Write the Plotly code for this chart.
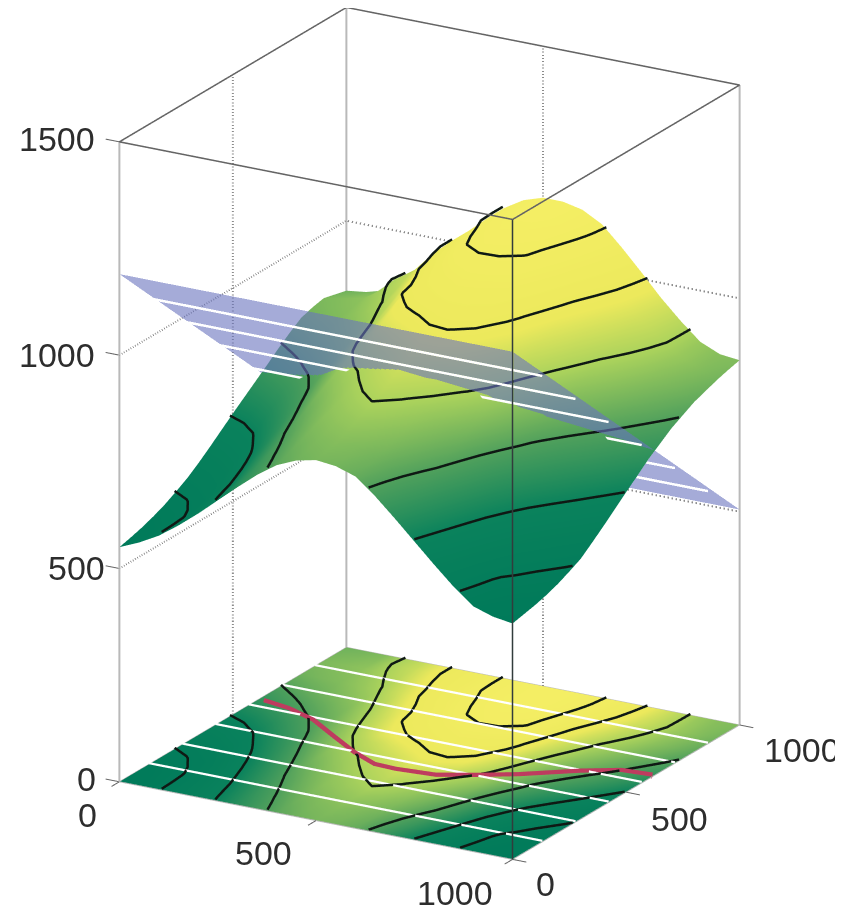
import plotly.graph_objects as go

x_grid = list(range(0, 1001, 50))
y_grid = list(range(0, 1001, 50))
z_y0 = [550, 570, 595, 628, 665, 705, 745, 783, 815, 835, 845, 840, 825, 788, 745, 700, 655, 612, 575, 560, 553]
z_y50 = [557, 574, 596, 632, 672, 715, 757, 794, 826, 844, 852, 846, 831, 798, 760, 715, 670, 625, 583, 567, 559]
z_y100 = [565, 578, 598, 637, 680, 725, 770, 806, 838, 853, 860, 852, 838, 809, 775, 730, 685, 638, 592, 575, 565]
z_y150 = [575, 586, 605, 647, 692, 738, 784, 819, 850, 864, 872, 863, 849, 822, 790, 745, 700, 655, 610, 588, 573]
z_y200 = [587, 597, 615, 658, 705, 752, 798, 832, 862, 876, 885, 875, 860, 835, 805, 761, 715, 672, 630, 602, 583]
z_y250 = [602, 613, 632, 674, 719, 767, 814, 846, 873, 889, 901, 889, 872, 848, 820, 777, 732, 692, 652, 620, 596]
z_y300 = [618, 630, 650, 690, 735, 783, 830, 860, 885, 902, 918, 903, 885, 862, 835, 793, 750, 712, 675, 640, 610]
z_y350 = [638, 651, 671, 710, 752, 800, 848, 875, 897, 917, 936, 920, 902, 879, 852, 811, 770, 734, 700, 665, 632]
z_y400 = [660, 672, 693, 730, 770, 818, 865, 890, 910, 933, 955, 938, 920, 897, 870, 830, 790, 757, 725, 690, 655]
z_y450 = [683, 695, 716, 751, 787, 835, 881, 909, 932, 953, 975, 975, 958, 920, 885, 846, 807, 777, 747, 714, 679]
z_y500 = [706, 718, 740, 772, 805, 852, 897, 930, 958, 980, 1000, 1005, 985, 942, 900, 862, 825, 797, 770, 738, 703]
z_y550 = [728, 744, 765, 792, 821, 866, 915, 965, 990, 1005, 1020, 1025, 1010, 962, 915, 877, 842, 816, 790, 760, 726]
z_y600 = [750, 770, 790, 813, 838, 880, 930, 985, 1012, 1030, 1045, 1042, 1030, 990, 930, 893, 860, 835, 810, 782, 750]
z_y650 = [772, 791, 810, 830, 853, 894, 945, 1005, 1030, 1050, 1068, 1062, 1048, 1005, 950, 909, 875, 850, 825, 800, 770]
z_y700 = [795, 813, 830, 848, 868, 908, 965, 1012, 1045, 1075, 1090, 1090, 1075, 1025, 968, 925, 890, 865, 840, 817, 790]
z_y750 = [816, 830, 843, 861, 882, 924, 985, 1022, 1065, 1100, 1120, 1115, 1098, 1045, 987, 942, 905, 879, 853, 830, 805]
z_y800 = [835, 846, 855, 874, 897, 945, 1000, 1040, 1080, 1112, 1130, 1125, 1110, 1065, 1005, 960, 920, 892, 865, 843, 820]
z_y850 = [844, 853, 862, 884, 910, 960, 1010, 1050, 1090, 1120, 1138, 1136, 1122, 1082, 1024, 978, 935, 904, 874, 852, 830]
z_y900 = [850, 858, 868, 895, 925, 975, 1020, 1060, 1100, 1128, 1145, 1145, 1132, 1095, 1042, 995, 950, 915, 882, 860, 840]
z_y950 = [843, 851, 862, 905, 935, 985, 1025, 1060, 1102, 1128, 1145, 1145, 1135, 1105, 1055, 1006, 958, 918, 881, 860, 848]
z_y1000 = [836, 842, 855, 900, 935, 985, 1025, 1060, 1102, 1130, 1145, 1145, 1135, 1110, 1065, 1016, 965, 920, 880, 860, 855]
surface_z = [z_y0, z_y50, z_y100, z_y150, z_y200, z_y250, z_y300, z_y350, z_y400, z_y450, z_y500, z_y550,
             z_y600, z_y650, z_y700, z_y750, z_y800, z_y850, z_y900, z_y950, z_y1000]

plane_y = [0, 1000]
plane_x = [0, 1000]
plane_z_rows = [[1190, 1190], [505, 505]]
contour_levels = [1100, 1000, 900, 800, 700, 600]
level_y = [131, 277, 423, 569, 715, 861]
red_x = [18, 92, 176, 264, 358, 435, 491, 587, 667, 743, 850, 925, 1000]
red_y = [604, 587, 549, 483, 414, 370, 366, 377, 422, 471, 559, 608, 616]
tick_vals = [0, 500, 1000]
z_tick_vals = [0, 500, 1000, 1500]

colors = [[0, "rgb(0,122,90)"], [0.25, "rgb(10,130,92)"], [0.42, "rgb(80,160,92)"],
          [0.58, "rgb(170,210,92)"], [0.72, "rgb(236,233,92)"], [1, "rgb(244,238,100)"]]
flat = dict(ambient=1, diffuse=0, specular=0, roughness=1, fresnel=0)
no_hl = dict(x=dict(highlight=False), y=dict(highlight=False), z=dict(highlight=False))


def iso_lines(level):
    """Walk the grid cells, then chain the crossing segments of one level into polylines."""
    segs = []
    for j in range(len(y_grid) - 1):
        for i in range(len(x_grid) - 1):
            c = [(x_grid[i], y_grid[j], surface_z[j][i]), (x_grid[i + 1], y_grid[j], surface_z[j][i + 1]),
                 (x_grid[i + 1], y_grid[j + 1], surface_z[j + 1][i + 1]), (x_grid[i], y_grid[j + 1], surface_z[j + 1][i])]
            pts = []
            for a, b in zip(c, c[1:] + c[:1]):
                if (a[2] >= level) != (b[2] >= level):
                    t = (level - a[2]) / (b[2] - a[2])
                    pts.append((round(a[0] + t * (b[0] - a[0]), 3), round(a[1] + t * (b[1] - a[1]), 3)))
            for k in range(0, len(pts) - 1, 2):
                segs.append([pts[k], pts[k + 1]])
    lines = []
    while segs:
        line = segs.pop()
        grown = True
        while grown:
            grown = False
            for s in segs:
                if s[0] == line[-1]:
                    line.append(s[1])
                elif s[1] == line[-1]:
                    line.append(s[0])
                elif s[0] == line[0]:
                    line.insert(0, s[1])
                elif s[1] == line[0]:
                    line.insert(0, s[0])
                else:
                    continue
                segs.remove(s)
                grown = True
                break
        lines.append(line)
    return lines


fig = go.Figure()
fig.add_trace(go.Surface(x=x_grid, y=y_grid, z=[[0] * len(x_grid)] * len(y_grid), surfacecolor=surface_z,
                         colorscale=colors, cmin=550, cmax=1150, showscale=False, lighting=flat, contours=no_hl))
fig.add_trace(go.Surface(x=x_grid, y=y_grid, z=surface_z, surfacecolor=surface_z,
                         colorscale=colors, cmin=550, cmax=1150, showscale=False, lighting=flat, contours=no_hl))
fig.add_trace(go.Surface(x=plane_x, y=plane_y, z=plane_z_rows, showscale=False, lighting=flat, opacity=0.6,
                         colorscale=[[0, "rgb(105,115,190)"], [1, "rgb(105,115,190)"]], contours=no_hl))

white = dict(color="white", width=5)
for lv, yv in zip(contour_levels, level_y):
    fig.add_trace(go.Scatter3d(x=plane_x, y=[yv, yv], z=[2, 2], mode="lines", line=white))
    fig.add_trace(go.Scatter3d(x=plane_x, y=[yv, yv], z=[lv - 8, lv - 8], mode="lines", line=white))
fig.add_trace(go.Scatter3d(x=red_x, y=red_y, z=[2.5] * len(red_x), mode="lines",
                           line=dict(color="rgb(190,60,95)", width=12)))
for lv in contour_levels:
    for line in iso_lines(lv):
        lx = [p[0] for p in line]
        ly = [p[1] for p in line]
        blk = dict(color="rgb(15,25,20)", width=5)
        fig.add_trace(go.Scatter3d(x=lx, y=ly, z=[lv + 5] * len(lx), mode="lines", line=blk))
        fig.add_trace(go.Scatter3d(x=lx, y=ly, z=[3] * len(lx), mode="lines", line=blk))


def seg(xs, ys, zs, color="rgb(150,150,150)", width=2, dash="solid"):
    fig.add_trace(go.Scatter3d(x=xs, y=ys, z=zs, mode="lines", line=dict(color=color, width=width, dash=dash)))


light = "rgb(185,185,185)"
dark = "rgb(100,100,100)"
seg([0, 0], [0, 0], [0, 1500], light, 4)
seg([0, 0], [1000, 1000], [0, 1500], light, 4)
seg([1000, 1000], [1000, 1000], [0, 1500], light, 4)
seg([1000, 1000], [0, 0], [0, 1500], "rgb(50,60,60)", 3)
seg([0, 1000, 1000, 0, 0], [0, 0, 1000, 1000, 0], [1500] * 5, dark, 3)
seg([0, 1000, 1000, 0, 0], [0, 0, 1000, 1000, 0], [0] * 5, light, 2)
for zv in [500, 1000]:
    seg([0, 0, 1000], [0, 1000, 1000], [zv, zv, zv], "rgb(140,140,140)", 4, "dot")
seg([0, 0], [500, 500], [0, 1500], "rgb(140,140,140)", 4, "dot")
seg([500, 500], [1000, 1000], [0, 1500], "rgb(140,140,140)", 4, "dot")
for v in tick_vals:
    seg([v, v], [0, -35], [0, 0], dark, 2)
    seg([1000, 1035], [v, v], [0, 0], dark, 2)
for v in z_tick_vals:
    seg([0, -35], [0, 0], [v, v], dark, 2)


def axis():
    return dict(range=[-40, 1040], showticklabels=False, ticks="", showgrid=False, zeroline=False,
                showbackground=False, showline=False, showspikes=False, title="")


label_font = dict(family="Liberation Sans", size=34, color="rgb(45,45,45)")


def label(x, y, z, dx, dy, text):
    return dict(x=x, y=y, z=z, text=text, showarrow=False, xanchor="center", yanchor="middle",
                xshift=dx, yshift=dy, font=label_font)


notes = [label(0, 0, 0, -32, -33, "0"), label(500, 0, 0, -52, -32, "500"), label(1000, 0, 0, -58, -34, "1000"),
         label(1000, 0, 0, 33, -25, "0"), label(1000, 500, 0, 53, -27, "500"), label(1000, 1000, 0, 62, -25, "1000"),
         label(0, 0, 0, -33, 3, "0"), label(0, 0, 500, -43, 0, "500"), label(0, 0, 1000, -62, 0, "1000"), label(0, 0, 1500, -62, 3, "1500")]

R = 2.01
shift = -0.067
fig.update_layout(width=843, height=908, margin=dict(l=0, r=0, t=0, b=0), showlegend=False,
                  paper_bgcolor="white",
                  scene=dict(xaxis=axis(), yaxis=axis(), zaxis=dict(axis(), range=[0, 1500]),
                             aspectmode="manual", aspectratio=dict(x=1.08, y=1.08, z=1.5),
                             domain=dict(x=[0, 1], y=[0, 1]), annotations=notes,
                             camera=dict(projection=dict(type="orthographic"), up=dict(x=0, y=0, z=1),
                                         center=dict(x=0, y=0, z=shift),
                                         eye=dict(x=0.470 * R, y=-0.814 * R, z=0.342 * R + shift))))
fig.write_html("out.html")
